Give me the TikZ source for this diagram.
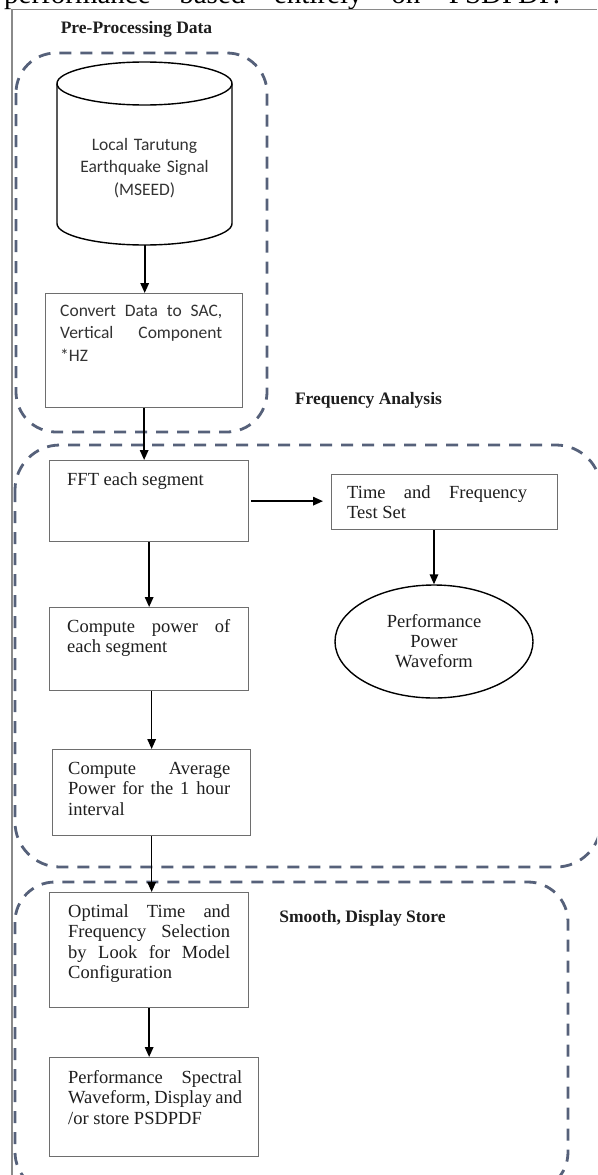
\documentclass[tikz,border=0pt]{standalone}
\usepackage{fontspec}
\setmainfont{Liberation Serif}
\newfontfamily\calfont{Carlito}
\usetikzlibrary{arrows.meta,shapes.geometric}
\definecolor{dashc}{HTML}{56617A}
\definecolor{boxc}{HTML}{6E6E6E}
\definecolor{txtc}{HTML}{1E1E1E}
\definecolor{sanc}{HTML}{333333}
\definecolor{pagec}{HTML}{8A8A8A}
\tikzset{
  grp/.style={draw=dashc, line width=2.8pt, dash pattern=on 12pt off 9pt},
  box/.style={draw=boxc, line width=1.3pt, rectangle, inner sep=0pt, anchor=north west},
  stxt/.style={font=\fontsize{18.5}{20.5}\selectfont, text=txtc, inner sep=0pt, align=justify, anchor=base west},
  sanstxt/.style={font=\calfont\fontsize{17.5}{22.5}\selectfont, text=sanc, inner sep=0pt},
  lbl/.style={font=\bfseries\fontsize{17.5}{20}\selectfont, text=txtc, inner sep=0pt, anchor=base},
  arr/.style={-{Triangle[length=10pt,width=8.5pt]}, line width=1.6pt, black},
}
\begin{document}
\begin{tikzpicture}[x=1pt,y=-1pt]
\useasboundingbox (0,0) rectangle (597,1175);
\clip (0,0) rectangle (597,1175);
\fill[white] (0,0) rectangle (597,1175);
% clipped line of page text
\node[font=\fontsize{29}{29}\selectfont, anchor=base west, inner sep=0pt] (toptext) at (4,3.5)
  {\makebox[556pt][s]{performance based entirely on PSDPDF.}};
% page border
\draw[pagec, line width=1.4pt] (12,1175) -- (12,9.5) -- (597,9.5);
% groups
\draw[grp, rounded corners=40pt] (16,53) rectangle (267,432);
\draw[grp, rounded corners=45pt] (15,445) rectangle (601,867);
\draw[grp, rounded corners=40pt] (15,882) rectangle (568,1192);
% labels
\node[lbl] (lpre) at (136.5,33) {Pre-Processing Data};
\node[lbl] (lfreq) at (368.5,404) {Frequency Analysis};
\node[lbl] (lsmooth) at (362.5,922) {Smooth, Display Store};
% cylinder
\node[minimum width=175pt, minimum height=183pt, inner sep=0pt, anchor=north west] (db) at (57,62) {};
\draw[black, line width=1.4pt] (144.5,83.5) ellipse [x radius=87.5pt, y radius=21.5pt];
\draw[black, line width=1.4pt] (57,83.5) -- (57,223.5)
  arc[start angle=180, end angle=360, x radius=87.5pt, y radius=21.5pt] -- (232,83.5);
\node[sanstxt, text width=170pt, align=center, anchor=base] (dbt) at (144.5,150)
  {Local Tarutung\\Earthquake Signal\\(MSEED)};
% boxes
\node[box, minimum width=197pt, minimum height=114pt] (conv) at (45,293) {};
\node[sanstxt, text width=162pt, align=justify, anchor=base west] (convt) at (60,316)
  {Convert Data to SAC,\linebreak Vertical Component\linebreak *HZ};
\node[box, minimum width=199pt, minimum height=81pt] (fft) at (49,460) {};
\node[stxt, text width=163pt] (fftt) at (67,485) {FFT each segment};
\node[box, minimum width=226pt, minimum height=55pt] (tf) at (331,474) {};
\node[stxt, text width=180pt] (tft) at (347,498) {Time and Frequency\linebreak Test Set};
\node[ellipse, draw=black, line width=1.4pt, minimum width=198pt, minimum height=113pt,
  inner sep=0pt, font=\fontsize{18.5}{20}\selectfont, text=txtc, align=center] (ell) at (434,641.5)
  {Performance\\Power\\Waveform};
\node[box, minimum width=199pt, minimum height=83pt] (cp) at (49,607) {};
\node[stxt, text width=163pt] (cpt) at (67,632) {Compute power of\linebreak each segment};
\node[box, minimum width=198pt, minimum height=86pt] (avg) at (52,749) {};
\node[stxt, text width=162pt] (avgt) at (68,774) {Compute Average\linebreak Power for the 1 hour\linebreak interval};
\node[box, minimum width=199pt, minimum height=115pt] (opt) at (49,892) {};
\node[stxt, text width=162pt] (optt) at (68,917) {Optimal Time and\linebreak Frequency Selection\linebreak by Look for Model\linebreak Configuration};
\node[box, minimum width=209pt, minimum height=99pt] (perf) at (49,1057) {};
\node[stxt, text width=174pt] (perft) at (68,1083) {Performance Spectral\linebreak Waveform, Display and\linebreak /or store PSDPDF};
% connectors
\draw[arr] (db.south) -- (db.south |- conv.north);
\draw[arr] (conv.south) -- (conv.south |- fft.north);
\draw[arr] (fft.south) -- (fft.south |- cp.north);
\draw[arr] (avg.north |- cp.south) -- (avg.north);
\draw[arr] (avg.south) -- (avg.south |- opt.north);
\draw[arr] (opt.south) -- (opt.south |- perf.north);
\draw[arr, shorten <=2pt, shorten >=8pt] (fft.east) -- (fft.east -| tf.west);
\draw[arr] (ell.north |- tf.south) -- (ell.north);
\end{tikzpicture}
\end{document}
